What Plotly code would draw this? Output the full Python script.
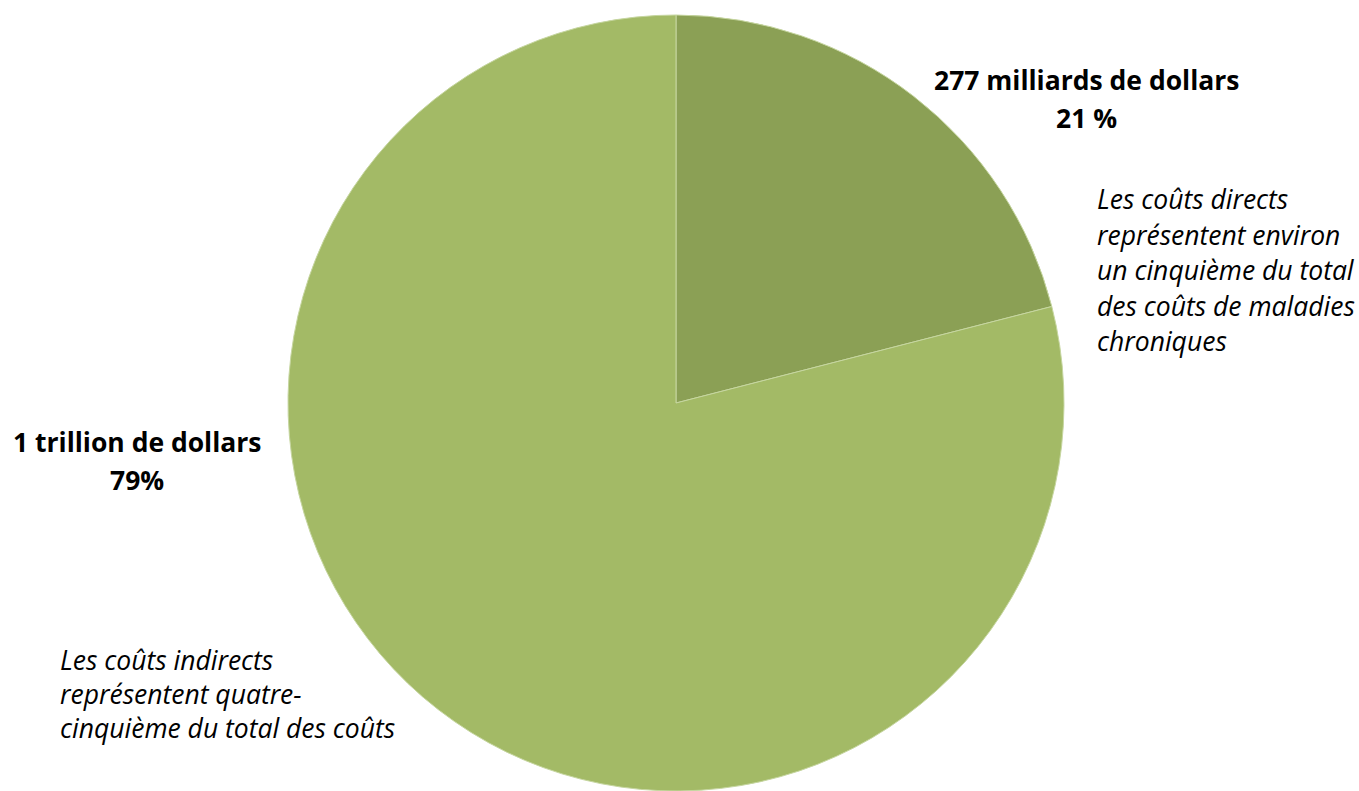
import plotly.graph_objects as go

labels = ["Coûts directs", "Coûts indirects"]
values = [21, 79]
colors = ["#8BA055", "#A3BA66"]

W, H = 1359, 791

fig = go.Figure(go.Pie(
    labels=labels, values=values, sort=False, direction="clockwise", rotation=0,
    marker=dict(colors=colors, line=dict(color="#C6D6A0", width=1)),
    textinfo="none", hoverinfo="label+value", showlegend=False,
    domain=dict(x=[0, 1352 / W], y=[0, 776 / H]),
))

FONT = "Open Sans"

def ann(text, x, y, size, bold=False, italic=False, anchor="left"):
    t = text
    if bold:
        t = "<b>" + t + "</b>"
    if italic:
        t = "<i>" + t + "</i>"
    fig.add_annotation(text=t, x=x / W, y=1 - y / H, xref="paper", yref="paper",
                       xanchor=anchor, yanchor="middle", showarrow=False,
                       font=dict(family=FONT, size=size, color="#000000"))

ann("277 milliards de dollars", 1086, 80, 26.5, bold=True, anchor="center")
ann("21 %", 1086, 118, 26.5, bold=True, anchor="center")
ann("1 trillion de dollars", 137, 442, 26.5, bold=True, anchor="center")
ann("79%", 137, 480, 26.5, bold=True, anchor="center")

right_lines = ["Les coûts directs", "représentent environ", "un cinquième du total",
               "des coûts de maladies", "chroniques"]
for i, line in enumerate(right_lines):
    ann(line, 1095, 199 + i * 35.5, 26.5, italic=True)

left_lines = ["Les coûts indirects", "représentent quatre-", "cinquième du total des coûts"]
for i, line in enumerate(left_lines):
    ann(line, 58, 660 + i * 34, 26.5, italic=True)

fig.update_layout(width=W, height=H, margin=dict(l=0, r=0, t=0, b=0),
                  paper_bgcolor="white", plot_bgcolor="white")
fig.write_html("out.html")
